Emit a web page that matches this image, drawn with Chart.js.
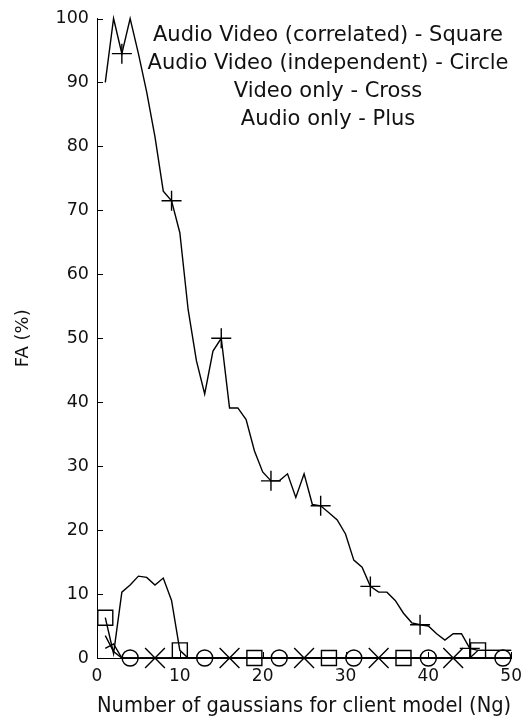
<!DOCTYPE html>
<html>
<head>
<meta charset="utf-8">
<title>FA vs number of gaussians</title>
<script src="https://cdn.jsdelivr.net/npm/chart.js@4.4.0/dist/chart.umd.min.js"></script>
<style>
    body { margin: 0; background: #fff; }
    canvas { display: block; }
</style>
</head>
<body>
<canvas id="faChart" width="530" height="723"></canvas>
<script>
// number of gaussians for client model (x of every curve)
const ng = [
    1, 2, 3, 4, 5, 6, 7, 8, 9, 10,
    11, 12, 13, 14, 15, 16, 17, 18, 19, 20,
    21, 22, 23, 24, 25, 26, 27, 28, 29, 30,
    31, 32, 33, 34, 35, 36, 37, 38, 39, 40,
    41, 42, 43, 44, 45, 46, 47, 48, 49, 50
]
// FA (%) - Audio only (plus)
const audioOnly = [
    90, 100, 94.5, 100, 94.5, 88.5, 81.5, 73, 71.5, 66.5,
    54.5, 46.5, 41.3, 48, 50, 39.1, 39.1, 37.3, 32.4, 29.1,
    27.7, 27.7, 28.8, 25.1, 28.8, 24, 23.8, 22.7, 21.6, 19.4,
    15.3, 14.2, 11.2, 10.3, 10.3, 9, 7, 5.5, 5.2, 5,
    3.8, 2.8, 3.8, 3.8, 1.5, 1.2, 1.2, 1.2, 1.2, 1.2
]
// FA (%) - Audio Video correlated (square)
const avCorrelated = [
    6.3, 0.7, 10.3, 11.4, 12.8, 12.6, 11.4, 12.5, 9, 1.2,
    0, 0, 0, 0, 0, 0, 0, 0, 0, 0,
    0, 0, 0, 0, 0, 0, 0, 0, 0, 0,
    0, 0, 0, 0, 0, 0, 0, 0, 0, 0,
    0, 0, 0, 0, 0, 1.2, 1.2, 1.2, 1.2, 1.2
]
// FA (%) - Audio Video independent (circle)
const avIndependent = [
    3.5, 1, 0, 0, 0, 0, 0, 0, 0, 0,
    0, 0, 0, 0, 0, 0, 0, 0, 0, 0,
    0, 0, 0, 0, 0, 0, 0, 0, 0, 0,
    0, 0, 0, 0, 0, 0, 0, 0, 0, 0,
    0, 0, 0, 0, 0, 0, 0, 0, 0, 0
]
// FA (%) - Video only (cross)
const videoOnly = [
    1.5, 2.2, 0, 0, 0, 0, 0, 0, 0, 0,
    0, 0, 0, 0, 0, 0, 0, 0, 0, 0,
    0, 0, 0, 0, 0, 0, 0, 0, 0, 0,
    0, 0, 0, 0, 0, 0, 0, 0, 0, 0,
    0, 0, 0, 0, 0, 0, 0, 0, 0, 0
]
// where each curve carries a marker
const plusAt = [3, 9, 15, 21, 27, 33, 39, 45]
const squareAt = [1, 10, 19, 28, 37, 46]
const circleAt = [4, 13, 22, 31, 40, 49]
const crossAt = [7, 16, 25, 34, 43]
//
const legendLines = [
    `Audio Video (correlated) - Square`,
    `Audio Video (independent) - Circle`,
    `Video only - Cross`,
    `Audio only - Plus`
]
const xTitle = `Number of gaussians for client model (Ng)`
const yTitle = `FA (%)`
const textColor = `#111`
//
Chart.defaults.font.family = `"DejaVu Sans", sans-serif`
Chart.defaults.color = textColor

function toPoints(values) {
    return ng.map((n, i) => ({ x: n, y: values[i] }))
}
//
function markersAt(values, at) {
    return at.map(n => ({ x: n, y: values[ng.indexOf(n)] }))
}
//
function lineSet(values) {
    return {
        data: toPoints(values),
        showLine: true,
        borderColor: `#000`,
        borderWidth: 1.4,
        pointRadius: 0,
        tension: 0,
        clip: false
    }
}
//
function markerSet(values, at, style, radius) {
    return {
        data: markersAt(values, at),
        showLine: false,
        pointStyle: style,
        pointRadius: radius,
        pointBorderColor: `#000`,
        pointBackgroundColor: `rgba(0,0,0,0)`,
        pointBorderWidth: 1.4,
        clip: false
    }
}
// short tick marks pointing into the plot, like the original figure
const inwardTicks = {
    id: `inwardTicks`,
    afterDatasetsDraw(chart) {
        const { ctx, chartArea, scales } = chart
        ctx.save()
        ctx.strokeStyle = `#000`
        ctx.lineWidth = 1
        ctx.beginPath()
        scales.y.ticks.forEach(t => {
            const y = Math.round(scales.y.getPixelForValue(t.value)) + 0.5
            ctx.moveTo(chartArea.left, y)
            ctx.lineTo(chartArea.left + 6, y)
        })
        scales.x.ticks.forEach(t => {
            const x = Math.round(scales.x.getPixelForValue(t.value)) + 0.5
            ctx.moveTo(x, chartArea.bottom)
            ctx.lineTo(x, chartArea.bottom - 6)
        })
        ctx.stroke()
        ctx.restore()
    }
}
// the text key written inside the axes
const legendText = {
    id: `legendText`,
    afterDraw(chart) {
        const { ctx } = chart
        ctx.save()
        ctx.font = `21px "DejaVu Sans"`
        ctx.fillStyle = textColor
        ctx.textAlign = `center`
        ctx.textBaseline = `alphabetic`
        legendLines.forEach((line, i) => ctx.fillText(line, 328, 41 + i * 28))
        ctx.restore()
    }
}

new Chart(`faChart`, {
    type: `scatter`,
    data: {
        datasets: [
            lineSet(audioOnly),
            lineSet(avCorrelated),
            lineSet(avIndependent),
            lineSet(videoOnly),
            markerSet(audioOnly, plusAt, `cross`, 10),
            markerSet(avCorrelated, squareAt, `rect`, 10.6),
            markerSet(avIndependent, circleAt, `circle`, 8),
            markerSet(videoOnly, crossAt, `crossRot`, 14)
        ]
    },
    options: {
        responsive: false,
        animation: false,
        layout: { padding: { top: 15, right: 13, left: 0, bottom: 0 } },
        plugins: {
            legend: { display: false },
            tooltip: { enabled: false }
        },
        scales: {
            x: {
                type: `linear`,
                min: 0,
                max: 50,
                grid: { display: false, drawTicks: false },
                border: { display: true, color: `#000`, width: 1 },
                ticks: { stepSize: 10, padding: 8, font: { size: 17 }, color: textColor },
                title: {
                    display: true,
                    text: xTitle,
                    font: { size: 20.5 },
                    color: textColor,
                    padding: { top: 0, bottom: 4 }
                },
                afterFit(scale) { scale.height = 65 }
            },
            y: {
                min: 0,
                max: 100,
                grid: { display: false, drawTicks: false },
                border: { display: true, color: `#000`, width: 1 },
                ticks: { stepSize: 10, padding: 8, font: { size: 17.5 }, color: textColor },
                title: {
                    display: true,
                    text: yTitle,
                    font: { size: 18 },
                    color: textColor,
                    padding: { top: 13, bottom: 0 }
                },
                afterFit(scale) { scale.width = 97 }
            }
        }
    },
    plugins: [inwardTicks, legendText]
})
</script>
</body>
</html>
